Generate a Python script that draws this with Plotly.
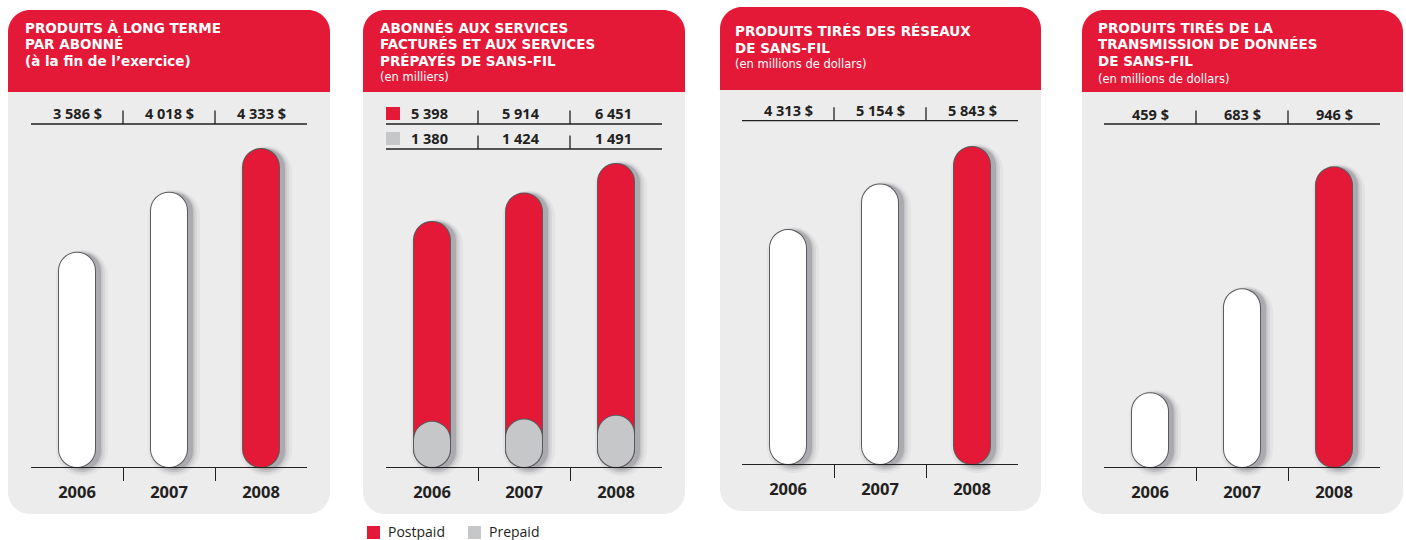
import plotly.graph_objects as go

W, H = 1406, 540

# ---------------- data ----------------
YEARS = ["2006", "2007", "2008"]
REV_PER_SUB = [3586, 4018, 4333]        # $ per subscriber
POSTPAID_SUBS = [5398, 5914, 6451]      # thousands
PREPAID_SUBS = [1380, 1424, 1491]       # thousands
NETWORK_REV = [4313, 5154, 5843]        # millions $
DATA_REV = [459, 683, 946]              # millions $

TITLE_1 = ["PRODUITS À LONG TERME", "PAR ABONNÉ", "(à la fin de l’exercice)"]
TITLE_2 = ["ABONNÉS AUX SERVICES", "FACTURÉS ET AUX SERVICES", "PRÉPAYÉS DE SANS-FIL"]
SUB_2 = "(en milliers)"
TITLE_3 = ["PRODUITS TIRÉS DES RÉSEAUX", "DE SANS-FIL"]
SUB_3 = "(en millions de dollars)"
TITLE_4 = ["PRODUITS TIRÉS DE LA", "TRANSMISSION DE DONNÉES", "DE SANS-FIL"]
SUB_4 = "(en millions de dollars)"
LEGEND_NAMES = ["Postpaid", "Prepaid"]

# ---------------- styles ----------------
FONT = "Open Sans"
HFONT = "DejaVu Sans"
RED = "#E31937"
PANEL_BG = "#ECECED"
DARK = "#231F20"
OUTLINE = "#5A5A5C"
GRAY = "#C6C7C9"
WHITE = "#FFFFFF"
BAR_W = 36.0
XPX = 92.0  # pixels per category


def fx(px):
    return px / W


def fy(py):
    return 1 - py / H


def money(v):
    return f"{v:,}".replace(",", " ") + " $"


def plain(v):
    return f"{v:,}".replace(",", " ")


PANELS = [
    dict(x0=8, x1=330, top=10, hb=92, bottom=514, ax0=31, ax1=307, base=467,
         rows=[124], floor=2042, scale=0.1388, tx=23),
    dict(x0=363, x1=685, top=10, hb=92, bottom=514, ax0=386, ax1=662, base=467,
         rows=[124, 149], floor=950, scale=0.0551, tx=378),
    dict(x0=720, x1=1041, top=7, hb=90, bottom=511, ax0=742, ax1=1018, base=464,
         rows=[120.7], floor=0, scale=0.05425, tx=733),
    dict(x0=1082, x1=1403, top=10, hb=92, bottom=514, ax0=1104, ax1=1380, base=467,
         rows=[124], floor=300, scale=0.464, tx=1096),
]
PREPAID_FLOOR = 560
DOM_TOP = 130


def rounded_path(x0, y0, x1, y1, rt, rb):
    k = 0.5523

    def P(x, y):
        return f"{fx(x):.6f},{fy(y):.6f}"
    s = f"M {P(x0, y0 + rt)} "
    s += f"C {P(x0, y0 + rt - k * rt)} {P(x0 + rt - k * rt, y0)} {P(x0 + rt, y0)} "
    s += f"L {P(x1 - rt, y0)} "
    s += f"C {P(x1 - rt + k * rt, y0)} {P(x1, y0 + rt - k * rt)} {P(x1, y0 + rt)} "
    s += f"L {P(x1, y1 - rb)} "
    s += f"C {P(x1, y1 - rb + k * rb)} {P(x1 - rb + k * rb, y1)} {P(x1 - rb, y1)} "
    s += f"L {P(x0 + rb, y1)} "
    s += f"C {P(x0 + rb - k * rb, y1)} {P(x0, y1 - rb + k * rb)} {P(x0, y1 - rb)} Z"
    return s


fig = go.Figure()


def pill(xa, ya, values, floor, scale, color, width_px, dx_px=0.0,
         ext_top=0.0, ext_bot=0.0):
    wd = width_px / XPX
    off = -wd / 2 + dx_px / XPX
    tops = [v + ext_top / scale for v in values]
    bot = floor - ext_bot / scale
    fig.add_trace(go.Bar(
        x=[0, 1, 2], base=[bot] * 3, y=[t - bot for t in tops],
        width=[wd] * 3, offset=[off] * 3, xaxis=xa, yaxis=ya,
        showlegend=False, hoverinfo="skip",
        marker=dict(color=color, line=dict(width=0), cornerradius=width_px / 2)))


def full_pill(xa, ya, values, floor, scale, colors, shadow=True):
    if shadow:
        for w_add, et, eb, a in [(16, 3, 9, 0.05), (10, 2, 7, 0.08),
                                 (5, 1, 5, 0.12), (2, 0, 3, 0.18)]:
            pill(xa, ya, values, floor, scale, f"rgba(60,60,72,{a})", BAR_W + w_add,
                 dx_px=5, ext_top=et, ext_bot=eb)
    pill(xa, ya, values, floor, scale, OUTLINE, BAR_W + 2, ext_top=1, ext_bot=1)
    pill(xa, ya, values, floor, scale, colors, BAR_W)


shapes = []
annotations = []
layout_axes = {}

series = [REV_PER_SUB, POSTPAID_SUBS, NETWORK_REV, DATA_REV]
bar_colors = [[WHITE, WHITE, RED], [RED, RED, RED], [WHITE, WHITE, RED], [WHITE, WHITE, RED]]

for i, p in enumerate(PANELS):
    n = i + 1
    xa = "x" if n == 1 else f"x{n}"
    ya = "y" if n == 1 else f"y{n}"
    shapes.append(dict(type="path", xref="paper", yref="paper", layer="below",
                       path=rounded_path(p["x0"], p["hb"] - 1, p["x1"], p["bottom"], 0, 22),
                       fillcolor=PANEL_BG, line=dict(width=0)))
    shapes.append(dict(type="path", xref="paper", yref="paper", layer="below",
                       path=rounded_path(p["x0"], p["top"], p["x1"], p["hb"], 22, 0),
                       fillcolor=RED, line=dict(width=0)))
    dom_bot = p["base"] + 12
    s = p["scale"]
    rng = [p["floor"] - (dom_bot - p["base"]) / s, p["floor"] + (p["base"] - DOM_TOP) / s]
    layout_axes["xaxis" if n == 1 else f"xaxis{n}"] = dict(
        domain=[fx(p["ax0"]), fx(p["ax1"])], range=[-0.5, 2.5], anchor="free",
        position=fy(p["base"]), showline=True, linecolor=DARK, linewidth=1.3,
        showgrid=False, zeroline=False, tickmode="array", tickvals=[0, 1, 2],
        ticktext=YEARS, ticks="", ticklabelstandoff=10,
        tickfont=dict(family=FONT, size=16.5, color=DARK, weight="bold"),
        minor=dict(tickmode="array", tickvals=[0.5, 1.5], ticks="outside", ticklen=13,
                   tickwidth=1.3, tickcolor=DARK, showgrid=False),
        fixedrange=True)
    layout_axes["yaxis" if n == 1 else f"yaxis{n}"] = dict(
        domain=[fy(dom_bot), fy(DOM_TOP)], range=rng, anchor=xa, visible=False,
        fixedrange=True)
    for ry in p["rows"]:
        shapes.append(dict(type="line", xref=xa, yref="paper", x0=-0.5, x1=2.5,
                           y0=fy(ry), y1=fy(ry), line=dict(color=DARK, width=1.3)))
        for sx in [0.5, 1.5]:
            shapes.append(dict(type="line", xref=xa, yref="paper", x0=sx, x1=sx,
                               y0=fy(ry), y1=fy(ry - 13.5), line=dict(color=DARK, width=1.3)))
    full_pill(xa, ya, series[i], p["floor"], s, bar_colors[i])

# prepaid pills in panel 2 on an overlaying axis
p2 = PANELS[1]
dom_bot2 = p2["base"] + 12
layout_axes["yaxis5"] = dict(
    overlaying="y2", anchor="x2", visible=False, fixedrange=True,
    range=[PREPAID_FLOOR - (dom_bot2 - p2["base"]) / p2["scale"],
           PREPAID_FLOOR + (p2["base"] - DOM_TOP) / p2["scale"]])
full_pill("x2", "y5", PREPAID_SUBS, PREPAID_FLOOR, p2["scale"], GRAY, shadow=False)


def ann_text(x, y, text, size, color, bold=False, xanchor="left", xref="paper", family=FONT):
    annotations.append(dict(
        x=x, y=fy(y), xref=xref, yref="paper", xanchor=xanchor, yanchor="middle",
        text=f"<b>{text}</b>" if bold else text, showarrow=False,
        font=dict(family=family, size=size, color=color)))


HS = 13.5
SS = 11.5
ys_main = [28, 44.3, 60.6]
for t, yy in zip(TITLE_1, ys_main):
    ann_text(fx(PANELS[0]["tx"]), yy, t, HS, WHITE, bold=True, family=HFONT)
for t, yy in zip(TITLE_2, ys_main):
    ann_text(fx(PANELS[1]["tx"]), yy, t, HS, WHITE, bold=True, family=HFONT)
ann_text(fx(PANELS[1]["tx"]), 77.5, SUB_2, SS, WHITE, family=HFONT)
for t, yy in zip(TITLE_3, [31, 47.5]):
    ann_text(fx(PANELS[2]["tx"]), yy, t, HS, WHITE, bold=True, family=HFONT)
ann_text(fx(PANELS[2]["tx"]), 64, SUB_3, SS, WHITE, family=HFONT)
for t, yy in zip(TITLE_4, [28.3, 44.5, 61]):
    ann_text(fx(PANELS[3]["tx"]), yy, t, HS, WHITE, bold=True, family=HFONT)
ann_text(fx(PANELS[3]["tx"]), 78.5, SUB_4, SS, WHITE, family=HFONT)

row_vals = [
    (0, [money(v) for v in REV_PER_SUB], 113),
    (1, [plain(v) for v in POSTPAID_SUBS], 113),
    (1, [plain(v) for v in PREPAID_SUBS], 138),
    (2, [money(v) for v in NETWORK_REV], 110),
    (3, [money(v) for v in DATA_REV], 114),
]
for pi, labels, yy in row_vals:
    xa = "x" if pi == 0 else f"x{pi + 1}"
    dxs = -0.03 if pi == 1 else 0.0
    for k, lab in enumerate(labels):
        ann_text(k + dxs, yy, lab, 14.5, DARK, bold=True, xanchor="center", xref=xa)

for (y0, col) in [(107, RED), (132, GRAY)]:
    shapes.append(dict(type="rect", xref="paper", yref="paper", x0=fx(386), x1=fx(400),
                       y0=fy(y0), y1=fy(y0 + 13), fillcolor=col, line=dict(width=0)))

for (x0, col, name) in [(367, RED, LEGEND_NAMES[0]), (468, GRAY, LEGEND_NAMES[1])]:
    shapes.append(dict(type="rect", xref="paper", yref="paper", x0=fx(x0), x1=fx(x0 + 13),
                       y0=fy(526), y1=fy(539), fillcolor=col, line=dict(width=0)))
    ann_text(fx(x0 + 19), 531.5, name, 14, DARK)

fig.update_layout(
    width=W, height=H, margin=dict(l=0, r=0, t=0, b=0),
    paper_bgcolor=WHITE, plot_bgcolor="rgba(0,0,0,0)",
    barmode="overlay", showlegend=False,
    shapes=shapes, annotations=annotations,
    **layout_axes,
)

fig.write_html("out.html", config={"displayModeBar": False},
               post_script="document.body.style.margin='0px';")
